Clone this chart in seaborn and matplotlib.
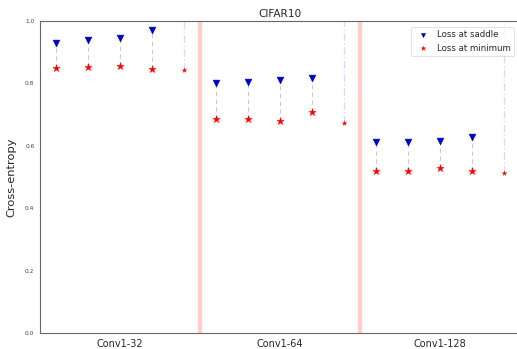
import numpy as np
import pandas as pd
import matplotlib
matplotlib.use("Agg")
import matplotlib.pyplot as plt
import seaborn as sns

groups = ["Conv1-32", "Conv1-64", "Conv1-128"]
saddle = [0.930, 0.939, 0.947, 0.970, np.nan,
          0.801, 0.804, 0.812, 0.816, np.nan,
          0.611, 0.611, 0.614, 0.627, np.nan]
minimum = [0.850, 0.852, 0.855, 0.846, 0.842,
           0.686, 0.686, 0.680, 0.708, 0.673,
           0.520, 0.519, 0.530, 0.519, 0.513]
y_top = 1.0

sns.set_style("white")
plt.rcParams['font.family'] = ['DejaVu Sans']

n_per = 5
x = np.arange(len(minimum))
df = pd.DataFrame({"x": x, "saddle": saddle, "minimum": minimum})
is_full = (x % n_per) == n_per - 1
df_s = df[~is_full]
df_f = df[is_full]

fig = plt.figure(figsize=(5.17, 3.49), dpi=100)
ax = fig.add_axes([40/517, 16/349, 480/517, 312/349])

# connectors
ax.vlines(df_s["x"], df_s["minimum"], df_s["saddle"], colors="#cccccc",
          linestyles=(0, (4, 3)), linewidth=0.8, zorder=1)
ax.vlines(df_f["x"], df_f["minimum"], y_top, colors="#d8d8f8",
          linestyles=(0, (6, 2, 1, 2)), linewidth=0.9, zorder=1)

# group dividers
for b in range(1, len(groups)):
    ax.axvline(b * n_per - 0.5, color="#ffcccc", linewidth=3, zorder=0)

sns.scatterplot(data=df_s, x="x", y="saddle", marker="v", color="#0000cc",
                edgecolor="#0000cc", s=24, ax=ax, label="Loss at saddle", zorder=3)
sns.scatterplot(data=df_s, x="x", y="minimum", marker="*", color="red",
                edgecolor="red", s=30, linewidth=0.3, ax=ax, label="Loss at minimum", zorder=3)
sns.scatterplot(data=df_f, x="x", y="minimum", marker="*", color="red",
                edgecolor="red", s=11, linewidth=0.3, ax=ax, zorder=3)

ax.set_xlim(-0.5, len(minimum) - 0.5)
ax.set_ylim(0, y_top)
ax.set_xticks([g * n_per + (n_per - 1) / 2 for g in range(len(groups))])
ax.set_xticklabels(groups, fontsize=7)
ax.tick_params(axis="x", length=0, pad=4)
ax.set_yticks([0.0, 0.2, 0.4, 0.6, 0.8, 1.0])
ax.tick_params(axis="y", labelsize=4.2, length=2, width=0.5, pad=2, colors="#444444")
ax.set_xlabel("")
ax.set_ylabel("Cross-entropy", fontsize=8.2, labelpad=6)
ax.set_title("CIFAR10", fontsize=7.6, pad=3)
for sp in ax.spines.values():
    sp.set_color("#666666")
    sp.set_linewidth(0.8)
ax.spines["right"].set_visible(False)

leg = ax.legend(loc="upper right", fontsize=6.2, markerscale=0.6,
                frameon=True, handletextpad=0.6, borderpad=0.4,
                bbox_to_anchor=(0.997, 0.995), bbox_transform=ax.transAxes)
leg.get_frame().set_linewidth(0.5)
leg.get_frame().set_edgecolor("#cccccc")

fig.savefig("out.png", dpi=100)
